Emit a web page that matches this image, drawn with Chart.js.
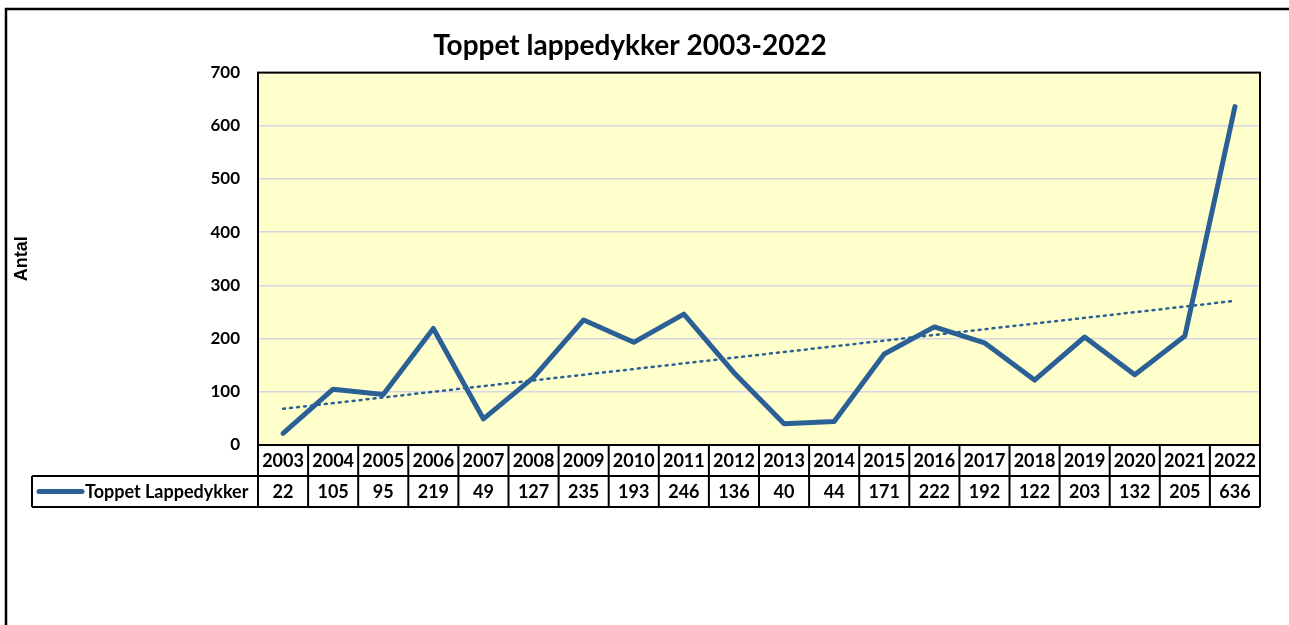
<!DOCTYPE html>
<html>
<head>
<meta charset="utf-8">
<script src="https://cdn.jsdelivr.net/npm/chart.js@4.4.0/dist/chart.umd.min.js"></script>
<style>
  html, body { margin: 0; padding: 0; background: #fff; }
  #wrap { width: 1289px; height: 625px; position: relative; }
</style>
</head>
<body>
<div id="wrap"><canvas id="lappedykker" width="1289" height="625"></canvas></div>
<script>
// toppet lappedykker, counts per year

const years = ['2003','2004','2005','2006','2007','2008','2009','2010','2011','2012',
  '2013','2014','2015','2016','2017','2018','2019','2020','2021','2022'];
const counts = [22,105,95,219,49,127,235,193,246,136,40,44,171,222,192,122,203,132,205,636];
const yTicks = [0,100,200,300,400,500,600,700];
const trendEnds = [68, 271]; // first and last year
const seriesName = 'Toppet Lappedykker';

const trendData = years.map((y, i) => i === 0 ? trendEnds[0] : (i === years.length - 1 ? trendEnds[1] : null));

const lineBlue = '#2b6096';
const fontMain = 'Lato, "Open Sans", sans-serif';

// yellow plot background + black frame round it, outer frame of the sheet
const plotFrame = {
  id: 'plotFrame',
  beforeDraw(chart) {
    const {ctx, chartArea: a} = chart;
    ctx.save();
    ctx.fillStyle = '#ffffcc';
    ctx.fillRect(a.left, a.top, a.right - a.left, a.bottom - a.top);
    ctx.restore();
  },
  afterDraw(chart) {
    const {ctx, chartArea: a} = chart;
    ctx.save();
    ctx.strokeStyle = '#000';
    ctx.lineWidth = 2;
    ctx.strokeRect(a.left, a.top, a.right - a.left, a.bottom - a.top);
    // outer sheet frame
    ctx.lineWidth = 2.5;
    ctx.beginPath();
    ctx.moveTo(6, 625);
    ctx.lineTo(6, 9);
    ctx.lineTo(1289, 9);
    ctx.stroke();
    ctx.restore();
  }
};

// Excel style data table under the plot
const dataTable = {
  id: 'dataTable',
  afterDraw(chart) {
    const {ctx, chartArea: a} = chart;
    const x = chart.scales.x;
    const row1Top = a.bottom, row1Bot = a.bottom + 31, row2Bot = row1Bot + 31;
    const tableLeft = 32;
    const colW = (a.right - a.left) / years.length;
    ctx.save();
    ctx.strokeStyle = '#000';
    ctx.lineWidth = 2;
    ctx.beginPath();
    // horizontal lines
    ctx.moveTo(a.left, row1Top); ctx.lineTo(a.right, row1Top);
    ctx.moveTo(tableLeft, row1Bot); ctx.lineTo(a.right, row1Bot);
    ctx.moveTo(tableLeft, row2Bot); ctx.lineTo(a.right, row2Bot);
    // vertical lines
    ctx.moveTo(tableLeft, row1Bot); ctx.lineTo(tableLeft, row2Bot);
    for (let i = 0; i <= years.length; i++) {
      const vx = a.left + i * colW;
      ctx.moveTo(vx, row1Top); ctx.lineTo(vx, row2Bot);
    }
    ctx.stroke();

    ctx.fillStyle = '#000';
    ctx.font = 'bold 18px ' + fontMain;
    ctx.textAlign = 'center';
    ctx.textBaseline = 'middle';
    years.forEach((yr, i) => {
      const cx = x.getPixelForValue(i);
      ctx.fillText(yr, cx, (row1Top + row1Bot) / 2 + 1);
      ctx.fillText(String(counts[i]), cx, (row1Bot + row2Bot) / 2 + 1);
    });

    // legend key in the row header
    const midY = (row1Bot + row2Bot) / 2;
    ctx.strokeStyle = lineBlue;
    ctx.lineWidth = 5;
    ctx.lineCap = 'round';
    ctx.beginPath();
    ctx.moveTo(39, midY); ctx.lineTo(82, midY);
    ctx.stroke();
    ctx.textAlign = 'left';
    ctx.fillText(seriesName, 85, midY + 1);
    ctx.restore();
  }
};

const lctx = document.getElementById('lappedykker').getContext('2d');

const lappedykkerChart = new Chart(lctx, {
  type: 'line',
  data: {
    labels: years,
    datasets: [{
      label: seriesName,
      data: counts,
      borderColor: lineBlue,
      borderWidth: 5,
      pointRadius: 0,
      tension: 0,
      borderJoinStyle: 'round',
      borderCapStyle: 'round',
      order: 1
    }, {
      label: 'Lineær tendens',
      data: trendData,
      spanGaps: true,
      borderColor: lineBlue,
      borderWidth: 2.5,
      borderDash: [2, 5],
      borderCapStyle: 'round',
      pointRadius: 0,
      order: 2
    }]
  },
  options: {
    responsive: false,
    animation: false,
    layout: {
      padding: { top: 10, right: 29, bottom: 180, left: 0 }
    },
    plugins: {
      legend: { display: false },
      tooltip: { enabled: false },
      title: {
        display: true,
        text: 'Toppet lappedykker 2003-2022',
        color: '#000',
        font: { family: fontMain, size: 28, weight: 'bold' },
        padding: { top: 19, bottom: 10 }
      }
    },
    scales: {
      x: {
        display: false,
        offset: true
      },
      y: {
        min: 0,
        max: 700,
        afterFit(scale) { scale.width = 258; },
        afterBuildTicks(scale) { scale.ticks = yTicks.map(v => ({value: v})); },
        border: { display: false },
        grid: { color: '#d6d6e2', lineWidth: 1.5, drawTicks: false },
        ticks: {
          color: '#000',
          padding: 18,
          font: { family: fontMain, size: 17, weight: 'bold' }
        },
        title: {
          display: true,
          text: 'Antal',
          color: '#000',
          font: { family: '"Liberation Sans"', size: 18, weight: 'bold' },
          padding: { top: 11, bottom: 0 }
        }
      }
    }
  },
  plugins: [plotFrame, dataTable]
});
</script>
</body>
</html>
